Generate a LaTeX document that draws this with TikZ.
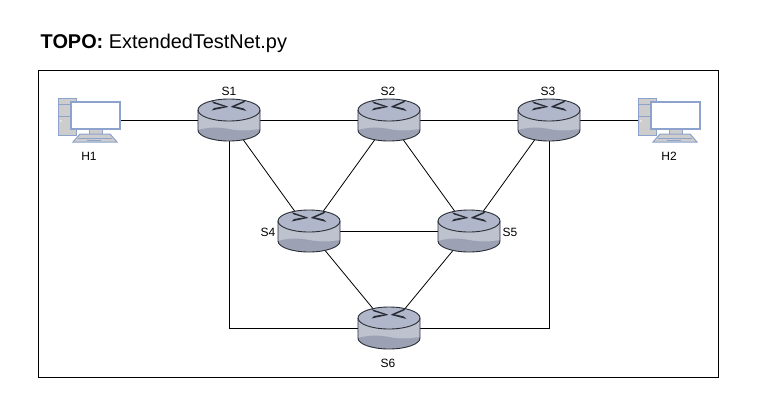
\documentclass[tikz,border=0pt]{standalone}
\usepackage{fontspec}
\setmainfont{Liberation Sans}
\usetikzlibrary{shapes.geometric}
\definecolor{routertop}{HTML}{B0B7CA}
\definecolor{routerside}{HTML}{BDC2CE}
\definecolor{routerlow}{HTML}{9CA1B3}
\definecolor{routerline}{HTML}{2A2D35}
\definecolor{pcblue}{HTML}{8DA2CC}
\definecolor{pcgrey}{HTML}{CDCDCD}
\tikzset{
  slot/.style={ellipse,minimum width=62pt,minimum height=42pt,inner sep=0pt},
  hostslot/.style={rectangle,minimum width=62pt,minimum height=42pt,inner sep=0pt},
  link/.style={line width=0.8pt,black},
  tag/.style={inner sep=0pt,font=\fontsize{12}{14}\selectfont},
  routerpic/.pic={
    \fill[routerside] (-31,-10) -- (-31,10) arc[start angle=180,end angle=0,x radius=31,y radius=11] -- (31,-10) -- cycle;
    \fill[routerlow] (-31,10) .. controls (-20,7) and (-10,7) .. (0,9) .. controls (10,11) and (20,11) .. (31,9) -- (31,10) arc[start angle=0,end angle=180,x radius=31,y radius=11] -- cycle;
    \fill[routertop] (0,-10) ellipse[x radius=31,y radius=11];
    \draw[routerline,line width=0.9pt] (-31,-10) -- (-31,10) arc[start angle=180,end angle=0,x radius=31,y radius=11] -- (31,-10);
    \draw[routerline,line width=0.9pt] (0,-10) ellipse[x radius=31,y radius=11];
    \fill[routerline] (-17.5,-19) -- (-1,-13.5) -- (-3,-13) -- (-15,-16.5) -- cycle;
    \fill[routerline] (-17.5,-9.5) -- (-1,-13) -- (-3,-14) -- (-15,-12) -- cycle;
    \fill[routerline] (17,-20) -- (2,-13.5) -- (4.5,-13) -- (15,-17.5) -- cycle;
    \fill[routerline] (17.5,-9) -- (2,-13) -- (4.5,-14) -- (15,-11.5) -- cycle;
  },
  hostpic/.pic={
    \draw[pcblue,fill=pcgrey,line width=1pt] (-31,-22) rectangle (-13,15);
    \draw[pcblue,line width=1pt] (-31,-16) -- (-18,-16) (-31,-4) -- (-18,-4);
    \fill[white] (-28,1) circle (0.9);
    \draw[pcblue,fill=pcgrey,line width=1pt] (0,9) rectangle (13,14);
    \draw[pcblue,fill=pcgrey,line width=1pt] (-16,22) -- (-9,14) -- (21,14) -- (28,22) -- cycle;
    \draw[pcblue,line width=0.8pt] (-11,18) -- (23,18) (-2,20) -- (12,20);
    \draw[pcblue,fill=white,line width=1.5pt] (-18,-18) rectangle (31,9);
  },
}
\begin{document}
\begin{tikzpicture}[x=1pt,y=-1pt]
  \useasboundingbox (0,0) rectangle (760,402);
  \draw[black,line width=0.9pt] (38.5,70.5) rectangle (718.5,377.5);
  \node[anchor=base west,inner sep=0pt,font=\fontsize{19.9}{24}\selectfont] (title) at (40.5,48) {\textbf{TOPO:} ExtendedTestNet.py};
  % slots
  \node[hostslot] (h1) at (89,120) {};
  \node[hostslot] (h2) at (669,120) {};
  \node[slot] (s1) at (229,120) {};
  \node[slot] (s2) at (389,120) {};
  \node[slot] (s3) at (549,120) {};
  \node[slot] (s4) at (309,231) {};
  \node[slot] (s5) at (469,231) {};
  \node[slot] (s6) at (389,328) {};
  % links
  \draw[link] (h1) -- (s1);
  \draw[link] (s1) -- (s2);
  \draw[link] (s2) -- (s3);
  \draw[link] (s3) -- (h2);
  \draw[link] (s4) -- (s5);
  \draw[link] (s1) -- (s4);
  \draw[link] (s2) -- (s4);
  \draw[link] (s2) -- (s5);
  \draw[link] (s3) -- (s5);
  \draw[link] (s4) -- (s6);
  \draw[link] (s5) -- (s6);
  \draw[link] (s1) |- (s6);
  \draw[link] (s3) |- (s6);
  % icons
  \foreach \n/\px/\py in {s1/229/120,s2/389/120,s3/549/120,s4/309/231,s5/469/231,s6/389/328}
    \pic at (\px,\py) {routerpic};
  \pic at (89,120) {hostpic};
  \pic at (669,120) {hostpic};
  % labels
  \node[tag] (l1) at (229,91) {S1};
  \node[tag] (l2) at (388,91) {S2};
  \node[tag] (l3) at (548,91) {S3};
  \node[tag] (l4) at (268,232) {S4};
  \node[tag] (l5) at (510,232) {S5};
  \node[tag] (l6) at (388,363) {S6};
  \node[tag] (lh1) at (89,156) {H1};
  \node[tag] (lh2) at (669,156) {H2};
\end{tikzpicture}
\end{document}
